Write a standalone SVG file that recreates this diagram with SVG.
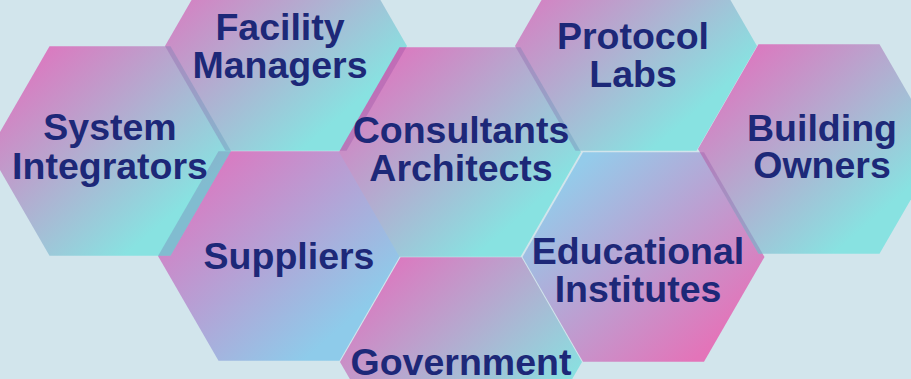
<svg xmlns="http://www.w3.org/2000/svg" xmlns:xlink="http://www.w3.org/1999/xlink" width="911" height="379" viewBox="0 0 911 379">
<style>
.lbl{font-family:"Liberation Sans",Arial,sans-serif;font-weight:bold;font-size:37.5px;fill:#1d2878;text-anchor:middle}
.shade{fill:#6a2a8a;fill-opacity:0.2}
</style>
<defs>
<path id="hex" d="M121,0 L60.5,104.8 L-60.5,104.8 L-121,0 L-60.5,-104.8 L60.5,-104.8 Z"/>
<linearGradient id="gPT" x1="0" y1="0" x2="1" y2="1"><stop offset="0.08" stop-color="#e073be"/><stop offset="0.78" stop-color="#88e2e1"/></linearGradient>
<linearGradient id="gPS" x1="0" y1="0" x2="1" y2="1"><stop offset="0.08" stop-color="#e073be"/><stop offset="0.8" stop-color="#8ecbea"/></linearGradient>
<linearGradient id="gSP" x1="0" y1="0" x2="1" y2="1"><stop offset="0.15" stop-color="#94cbea"/><stop offset="0.85" stop-color="#e374b9"/></linearGradient>
<clipPath id="cSI"><use xlink:href="#hex" href="#hex" transform="translate(110,151)"/></clipPath>
<clipPath id="cFM"><use xlink:href="#hex" href="#hex" transform="translate(286,46)"/></clipPath>
<clipPath id="cCA"><use xlink:href="#hex" href="#hex" transform="translate(460,152)"/></clipPath>
<clipPath id="cED"><use xlink:href="#hex" href="#hex" transform="translate(643.5,257)"/></clipPath>
</defs>
<rect width="911" height="379" fill="#d2e5ec"/>
<g id="connectors"/>
<g id="facility-managers">
<use href="#hex" transform="translate(286,46)" fill="url(#gPT)"/>
<text class="lbl" x="280" y="40">Facility</text>
<text class="lbl" x="280" y="78">Managers</text>
</g>
<g id="suppliers">
<use href="#hex" transform="translate(279,256)" fill="url(#gPS)"/>
<text class="lbl" x="289" y="269">Suppliers</text>
</g>
<g id="system-integrators">
<use href="#hex" transform="translate(110,151)" fill="url(#gPT)"/>
<g clip-path="url(#cSI)"><use href="#hex" class="shade" transform="translate(286,46)"/><use href="#hex" class="shade" transform="translate(279,256)"/></g>
<text class="lbl" x="110" y="140">System</text>
<text class="lbl" x="110" y="179">Integrators</text>
</g>
<g id="government">
<use href="#hex" transform="translate(461,362)" fill="url(#gPT)"/>
<text class="lbl" x="461" y="375">Government</text>
</g>
<g id="protocol-labs">
<use href="#hex" transform="translate(636,46)" fill="url(#gPT)"/>
<text class="lbl" x="633" y="49">Protocol</text>
<text class="lbl" x="633" y="87">Labs</text>
</g>
<g id="consultants-architects">
<use href="#hex" transform="translate(460,152)" fill="url(#gPT)"/>
<g clip-path="url(#cFM)"><use href="#hex" class="shade" transform="translate(460,152)"/></g>
<g clip-path="url(#cCA)"><use href="#hex" class="shade" transform="translate(636,46)"/></g>
<text class="lbl" x="461" y="143">Consultants</text>
<text class="lbl" x="461" y="181">Architects</text>
</g>
<g id="educational-institutes">
<use href="#hex" transform="translate(643.5,257)" fill="url(#gSP)"/>
<text class="lbl" x="638" y="264">Educational</text>
<text class="lbl" x="638" y="302">Institutes</text>
</g>
<g id="building-owners">
<use href="#hex" transform="translate(819,149)" fill="url(#gPT)"/>
<g clip-path="url(#cED)"><use href="#hex" class="shade" transform="translate(819,149)"/></g>
<text class="lbl" x="822" y="141">Building</text>
<text class="lbl" x="822" y="178">Owners</text>
</g>
</svg>
